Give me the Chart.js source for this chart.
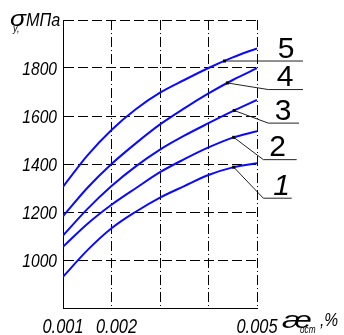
<!DOCTYPE html>
<html>
<head>
<meta charset="utf-8">
<script src="https://cdn.jsdelivr.net/npm/chart.js@4.4.1/dist/chart.umd.min.js"></script>
<style>
  html, body { margin: 0; padding: 0; background: #fff; }
  #wrap { width: 344px; height: 335px; }
</style>
</head>
<body>
<div id="wrap"><canvas id="c" width="344" height="335"></canvas></div>
<script>
// ---- data ----
const xValues = [0.001, 0.0015, 0.002, 0.0025, 0.003, 0.0035, 0.004, 0.0045, 0.005];
const curve1 = [930, 1040, 1132, 1201, 1260, 1308, 1354, 1386, 1403];
const curve2 = [1055, 1150, 1230, 1299, 1366, 1420, 1469, 1510, 1537];
const curve3 = [1102, 1212, 1308, 1390, 1460, 1518, 1570, 1620, 1667];
const curve4 = [1182, 1300, 1400, 1486, 1565, 1632, 1694, 1750, 1799];
const curve5 = [1305, 1435, 1542, 1628, 1697, 1750, 1800, 1844, 1882];
const curveNames = ['1', '2', '3', '4', '5'];
const leaderAt = [0.00452, 0.00452, 0.00453, 0.00439, 0.00433];
const yTickLabels = [1000, 1200, 1400, 1600, 1800];
const xTickLabels = ['0.001', '0.002', '0.005'];
const yTitle = { sym: 'σ', sub: 'у,', unit: 'МПа' };
const xTitle = { sym: 'æ', sub: 'ост', unit: ',%' };

// ---- styling / layout (not data) ----
const leaderLayout = [
  { elbowDx: 6.3, elbowDy: 31, endDx: 34.7, labelDx: 24.7, italic: true },
  { elbowDx: 6.3, elbowDy: 22.3, endDx: 39.7, labelDx: 20.5, italic: false },
  { elbowDx: 11.3, elbowDy: 12.6, endDx: 42, labelDx: 26, italic: false },
  { elbowDx: 11.3, elbowDy: 6.6, endDx: 46, labelDx: 28, italic: false },
  { elbowDx: null, elbowDy: 0, endDx: 46, labelDx: 29, italic: false }
];
const xLabelNudge = [0, 5, 0];
const SANS = "'Liberation Sans', Arial, sans-serif";
const NARROW_X = 0.82;

const series = [curve1, curve2, curve3, curve4, curve5];
const datasets = series.map((s, i) => ({
  label: curveNames[i],
  data: xValues.map((x, j) => ({ x: x, y: s[j] })),
  borderColor: '#0a0aff',
  borderWidth: 2,
  pointRadius: 0,
  fill: false,
  cubicInterpolationMode: 'monotone'
}));

function interp(xs, ys, x) {
  for (let i = 0; i < xs.length - 1; i++) {
    if (x >= xs[i] && x <= xs[i + 1]) {
      const t = (x - xs[i]) / (xs[i + 1] - xs[i]);
      return ys[i] + t * (ys[i + 1] - ys[i]);
    }
  }
  return ys[ys.length - 1];
}

function narrowText(ctx, text, x, y, font, align, sx) {
  ctx.save();
  ctx.font = font;
  ctx.textAlign = align;
  ctx.translate(x, y);
  ctx.scale(sx, 1);
  ctx.fillText(text, 0, 0);
  ctx.restore();
}

const annot = {
  id: 'annot',
  afterDraw(chart) {
    const ctx = chart.ctx;
    const xs = chart.scales.x, ys = chart.scales.y;
    const right = chart.chartArea.right;
    const bottom = chart.chartArea.bottom;
    ctx.save();
    ctx.fillStyle = '#000';
    ctx.textBaseline = 'alphabetic';
    // tick labels
    yTickLabels.forEach(v => {
      narrowText(ctx, String(v), xs.left - 6, ys.getPixelForValue(v) + 7, 'italic 19px ' + SANS, 'right', NARROW_X);
    });
    xTickLabels.forEach((t, i) => {
      narrowText(ctx, t, xs.getPixelForValue(parseFloat(t)) + xLabelNudge[i], bottom + 25, 'italic 20px ' + SANS, 'center', NARROW_X);
    });
    // leaders and curve numbers
    series.forEach((s, i) => {
      const L = leaderLayout[i];
      const px = xs.getPixelForValue(leaderAt[i]);
      const py = ys.getPixelForValue(interp(xValues, s, leaderAt[i]));
      const ey = py + L.elbowDy;
      ctx.strokeStyle = '#222';
      ctx.lineWidth = 1;
      ctx.beginPath();
      ctx.moveTo(px, py);
      if (L.elbowDx !== null) ctx.lineTo(right + L.elbowDx, ey);
      ctx.lineTo(right + L.endDx, ey);
      ctx.stroke();
      ctx.fillRect(px - 1.5, py - 1.5, 3, 3);
      ctx.font = (L.italic ? 'italic ' : '') + '30px ' + SANS;
      ctx.textAlign = 'center';
      ctx.fillText(curveNames[i], right + L.labelDx, ey - 3.5);
    });
    // axis titles
    ctx.textAlign = 'left';
    narrowText(ctx, yTitle.sym, 10, 26, 'italic 22px ' + SANS, 'left', 1.2);
    narrowText(ctx, yTitle.sub, 13, 32, 'italic 11px ' + SANS, 'left', NARROW_X);
    narrowText(ctx, yTitle.unit, 26, 26, 'italic 18px ' + SANS, 'left', 0.9);

    narrowText(ctx, xTitle.sym, 282, 328, 'italic 24px ' + SANS, 'left', 1.4);
    narrowText(ctx, xTitle.sub, 300, 333, 'italic 10px ' + SANS, 'left', NARROW_X);
    narrowText(ctx, xTitle.unit, 320, 326, 'italic 19px ' + SANS, 'left', NARROW_X);
    ctx.restore();
  }
};

new Chart(document.getElementById('c'), {
  type: 'line',
  data: { datasets: datasets },
  options: {
    responsive: false,
    animation: false,
    events: [],
    layout: { padding: { left: 0, top: 20, right: 87, bottom: 0 } },
    plugins: { legend: { display: false }, tooltip: { enabled: false } },
    scales: {
      x: {
        type: 'linear',
        min: 0.001, max: 0.005,
        afterFit(scale) { scale.height = 27; },
        ticks: { stepSize: 0.001, autoSkip: false, display: false },
        grid: { color: '#000', lineWidth: 1, drawTicks: false },
        border: { display: true, color: '#000', width: 1, dash: [10, 3, 1, 3] }
      },
      y: {
        type: 'linear',
        min: 800, max: 2000,
        afterFit(scale) { scale.width = 63; },
        ticks: { stepSize: 200, autoSkip: false, display: false },
        grid: { color: '#000', lineWidth: 1, drawTicks: false },
        border: { display: true, color: '#000', width: 1, dash: [10, 4] }
      }
    }
  },
  plugins: [annot]
});
</script>
</body>
</html>
